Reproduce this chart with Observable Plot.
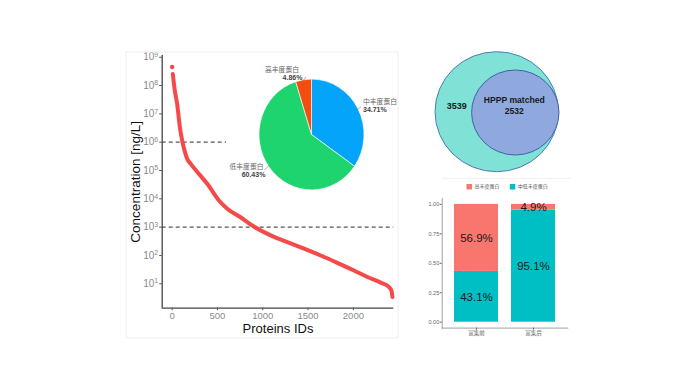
<!DOCTYPE html>
<html><head><meta charset="utf-8">
<script src="https://cdn.jsdelivr.net/npm/d3@7"></script>
<script src="https://cdn.jsdelivr.net/npm/@observablehq/plot@0.6"></script>
<style>
body{margin:0;background:#fff;}
#root{position:relative;width:680px;height:383px;overflow:hidden;background:#fff;font-family:"Liberation Sans",Arial,sans-serif;}
#root > svg{position:absolute;}
</style></head><body><div id="root"></div>
<script>
// ---------- data ----------
// main curve: protein rank (ID) vs concentration (ng/L)
const proteinIds = [7, 29, 55, 85, 114, 136, 166, 203, 295, 387, 516, 608, 755, 902, 1087, 1271, 1455, 1639, 1823, 2007, 2155, 2302, 2394, 2420, 2431];
const concentrations = [2.57e8, 6.6e7, 2.24e7, 3.39e6, 1.0e6, 5.13e5, 2.57e5, 1.74e5, 7.59e4, 3.39e4, 8710, 4470, 2240, 1050, 513, 295, 174, 100, 55, 29.5, 17.4, 11, 7.6, 5.75, 3.4];
const topId = [0];
const topConc = [4.5e8];
const thresholdY = [1e6, 1e3];
const thresholdFrom = [-110, -110];
const thresholdTo = [600, 2446];
const xTicks = [0, 500, 1000, 1500, 2000];
const yTicks = [1e1, 1e2, 1e3, 1e4, 1e5, 1e6, 1e7, 1e8, 1e9];

// pie inset
const pieLabels = ["中丰度蛋白", "低丰度蛋白", "高丰度蛋白"];
const pieValues = [34.71, 60.43, 4.86];
const pieColors = ["#03A4FA", "#1ED46E", "#F24E12"];

// venn
const vennOuterCount = 3539;
const vennInnerLabel = "HPPP matched";
const vennInnerCount = 2532;

// stacked bars
const barCats = ["富集前", "富集后"];
const barSeries = ["中低丰度蛋白", "高丰度蛋白"];
const lowShare = [0.431, 0.951];
const highShare = [0.569, 0.049];
const legendOrder = ["高丰度蛋白", "中低丰度蛋白"];
const barColors = {"高丰度蛋白": "#F8766D", "中低丰度蛋白": "#00BFC4"};
const barTicks = [0, 0.25, 0.5, 0.75, 1];

const root = document.getElementById("root");
const FONT = "Liberation Sans, Arial, sans-serif";
const CJK = "Noto Sans CJK SC, sans-serif";

// ---------- main chart ----------
const curve = proteinIds.map((id, i) => ({id, c: concentrations[i]}));
const tops = topId.map((id, i) => ({id, c: topConc[i]}));
const dashes = thresholdY.map((y, i) => ({y, x1: thresholdFrom[i], x2: thresholdTo[i]}));
const xDom = [-110, 2446], yDom = [1.374, 1.15e9];

const main = Plot.plot({
  width: 285, height: 300,
  marginLeft: 41.7, marginRight: 11.7, marginTop: 10, marginBottom: 37.3,
  style: {fontFamily: FONT, fontSize: "10px", color: "#555", background: "transparent", overflow: "visible"},
  x: {domain: xDom, label: null},
  y: {type: "log", domain: yDom, label: null},
  marks: [
    Plot.ruleY(dashes, {y: "y", x1: "x1", x2: "x2", stroke: "#555", strokeWidth: 1.2, strokeDasharray: "4,3"}),
    Plot.line(curve, {x: "id", y: "c", stroke: "#F5494A", strokeWidth: 4, curve: "monotone-x", strokeLinecap: "round"}),
    Plot.dot(tops, {x: "id", y: "c", r: 2.2, fill: "#F5494A"}),
    Plot.ruleX([xDom[0]], {stroke: "#444", strokeWidth: 1.3}),
    Plot.ruleY([yDom[0]], {stroke: "#444", strokeWidth: 1.3}),
    Plot.axisX({ticks: xTicks, tickSize: 2.5, tickPadding: 1.5, label: null, tickFormat: d => String(d), fontSize: 9.5}),
    Plot.axisY({ticks: yTicks, tickSize: 2.5, tickPadding: 1.5, label: null, tickFormat: d => "10^" + Math.round(Math.log10(d)), fontSize: 10}),
    Plot.text(["Concentration [ng/L]"], {frameAnchor: "left", dx: -27, rotate: -90, textAnchor: "middle", lineAnchor: "middle", fontSize: 13.5, fill: "#111"}),
    Plot.text(["Proteins IDs"], {frameAnchor: "bottom", dy: 20.5, textAnchor: "middle", lineAnchor: "middle", fontSize: 13, fill: "#111"})
  ]
});
main.style.left = "120px"; main.style.top = "45px";
d3.select(main).selectAll('g[aria-label="y-axis tick label"] text, g[aria-label="x-axis tick label"] text').attr("fill", "#8a8a8a");
d3.select(main).selectAll('g[aria-label="y-axis tick label"] text').each(function() {
  const [b, e] = this.textContent.split("^");
  const s = d3.select(this); s.text(null);
  s.append("tspan").text(b);
  s.append("tspan").attr("dy", "-0.5em").attr("font-size", "0.7em").text(e);
});
root.appendChild(main);

// ---------- stacked bar chart ----------
const barRows = [];
barCats.forEach((cat, i) => {
  barRows.push({cat, series: barSeries[0], v: lowShare[i]});
  barRows.push({cat, series: barSeries[1], v: highShare[i]});
});
const bars = Plot.plot({
  width: 165, height: 175,
  marginLeft: 26.7, marginRight: 11.7, marginTop: 23, marginBottom: 22.4,
  style: {fontFamily: CJK, fontSize: "5.5px", color: "#666", background: "transparent", overflow: "visible"},
  x: {domain: barCats, paddingInner: 0.22, paddingOuter: 0.21, label: null},
  y: {domain: [-0.05, 1.05], label: null},
  marks: [
    Plot.barY(barRows, {x: "cat", y: "v", fill: d => barColors[d.series], z: "series"}),
    Plot.text(barRows, Plot.stackY({x: "cat", y: "v", z: "series", text: d => (d.v * 100).toFixed(1) + "%", fontSize: 11.5, fill: "#1a1a1a", fontFamily: FONT})),
    Plot.ruleY([-0.05], {stroke: "#888", strokeWidth: 0.8}),
    Plot.frame({anchor: "left", stroke: "#888", strokeWidth: 0.8}),
    Plot.axisY({ticks: barTicks, tickFormat: d => d.toFixed(2), tickSize: 2, tickPadding: 1, fontSize: 5.5, fontFamily: FONT, label: null}),
    Plot.axisX({tickSize: 2, tickPadding: 1, fontSize: 5.5, label: null})
  ]
});
bars.style.left = "415px"; bars.style.top = "175px";
root.appendChild(bars);

// ---------- overlay: pie, venn, legend, panel edges ----------
const ov = d3.select(root).append("svg").attr("width", 680).attr("height", 383).style("left", "0px").style("top", "0px");

// faint panel edges
ov.append("rect").attr("x", 126).attr("y", 52).attr("width", 272).attr("height", 286).attr("fill", "none").attr("stroke", "#efefef");
ov.append("line").attr("x1", 441.7).attr("x2", 570).attr("y1", 178.3).attr("y2", 178.3).attr("stroke", "#eee");

// pie
const pie = d3.pie().sort(null)(pieValues);
const arc = d3.arc().innerRadius(0).outerRadius(52.5);
const pg = ov.append("g").attr("transform", "translate(311.5,134.5) scale(1,1.055)");
pg.selectAll("path").data(pie).join("path").attr("d", arc)
  .attr("fill", (d, i) => pieColors[i]).attr("stroke", "#fff").attr("stroke-width", 0.6);

const pieLab = [
  {i: 0, x: 363, y: 102.3, anchor: "start", px: 363, py: 110.3, lx: [357, 361], ly: [110, 106.5]},
  {i: 1, x: 263.5, y: 167, anchor: "end", px: 253.5, py: 175.3, lx: [265, 269], ly: [169.5, 165.5]},
  {i: 2, x: 282, y: 70, anchor: "middle", px: 292.5, py: 78.5, lx: [303, 306], ly: [81, 77]}
];
pieLab.forEach(p => {
  ov.append("text").attr("x", p.x).attr("y", p.y).attr("text-anchor", p.anchor).attr("dominant-baseline", "middle")
    .attr("font-family", CJK).attr("font-size", 6.8).attr("fill", "#666").text(pieLabels[p.i]);
  ov.append("text").attr("x", p.px).attr("y", p.py).attr("text-anchor", p.anchor === "start" ? "start" : "middle").attr("dominant-baseline", "middle")
    .attr("font-family", FONT).attr("font-size", 7).attr("font-weight", "bold").attr("fill", "#444").text(pieValues[p.i].toFixed(2) + "%");
  ov.append("line").attr("x1", p.lx[0]).attr("x2", p.lx[1]).attr("y1", p.ly[0]).attr("y2", p.ly[1]).attr("stroke", "#777").attr("stroke-width", 0.6);
});

// venn
ov.append("ellipse").attr("cx", 496.7).attr("cy", 111.7).attr("rx", 61.7).attr("ry", 60)
  .attr("fill", "#80E1D7").attr("stroke", "#4E7DB5").attr("stroke-width", 1);
ov.append("ellipse").attr("cx", 515.3).attr("cy", 112.5).attr("rx", 43.7).attr("ry", 42.5)
  .attr("fill", "#8FA9DF").attr("stroke", "#3F62A9").attr("stroke-width", 1);
ov.append("text").attr("x", 456.7).attr("y", 107).attr("text-anchor", "middle").attr("dominant-baseline", "middle")
  .attr("font-family", FONT).attr("font-weight", "bold").attr("font-size", 9).attr("fill", "#1a1a1a").text(vennOuterCount);
ov.append("text").attr("x", 514.3).attr("y", 100.7).attr("text-anchor", "middle").attr("dominant-baseline", "middle")
  .attr("font-family", FONT).attr("font-weight", "bold").attr("font-size", 8.6).attr("fill", "#1a1a1a").text(vennInnerLabel);
ov.append("text").attr("x", 514.3).attr("y", 112).attr("text-anchor", "middle").attr("dominant-baseline", "middle")
  .attr("font-family", FONT).attr("font-weight", "bold").attr("font-size", 8.6).attr("fill", "#1a1a1a").text(vennInnerCount);

// bar legend
const legX = [466.5, 509.8];
legendOrder.forEach((s, i) => {
  ov.append("rect").attr("x", legX[i]).attr("y", 184).attr("width", 5.5).attr("height", 5.5).attr("fill", barColors[s]);
  ov.append("text").attr("x", legX[i] + 8).attr("y", 187).attr("dominant-baseline", "middle")
    .attr("font-family", CJK).attr("font-size", 5).attr("fill", "#555").text(s);
});
</script></body></html>
